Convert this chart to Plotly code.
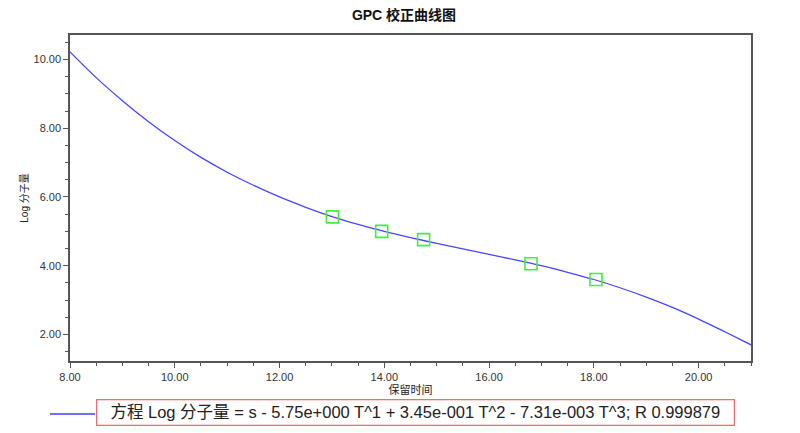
import plotly.graph_objects as go

# Calibration curve
curve_t = [8.0, 8.5, 9.0, 9.5, 10.0, 10.5, 11.0, 11.5, 12.0, 12.5, 13.0, 13.5, 14.0,
           14.5, 15.0, 15.5, 16.0, 16.5, 17.0, 17.5, 18.0, 18.5, 19.0, 19.5, 20.0, 20.5, 21.0]
curve_logm = [10.22, 9.47, 8.80, 8.19, 7.64, 7.15, 6.72, 6.34, 6.00, 5.70, 5.43, 5.20, 5.00,
              4.82, 4.65, 4.49, 4.33, 4.17, 4.00, 3.81, 3.60, 3.36, 3.09, 2.79, 2.45, 2.08, 1.70]

# Calibration standards
std_t = [13.01, 13.95, 14.75, 16.80, 18.04]
std_logm = [5.42, 5.00, 4.76, 4.06, 3.60]

title_text = "GPC 校正曲线图"
x_title = "保留时间"
y_title = "Log 分子量"
legend_text = "方程 Log 分子量 = s - 5.75e+000 T^1 + 3.45e-001 T^2 - 7.31e-003 T^3; R 0.999879"

x_range = [8, 21]
y_range = [1.23, 10.71]
x_ticks = [8, 10, 12, 14, 16, 18, 20]
y_ticks = [2, 4, 6, 8, 10]

font_main = "Liberation Sans, Arial, Noto Sans CJK SC, sans-serif"
font_narrow = "Liberation Sans Narrow, Liberation Sans, Arial, Noto Sans CJK SC, sans-serif"
axis_color = "#555555"

fig = go.Figure()
fig.add_trace(go.Scatter(
    x=curve_t, y=curve_logm, mode="lines",
    line=dict(color="rgb(70,70,250)", width=1.3, shape="spline", smoothing=0.8),
    showlegend=False, hoverinfo="x+y"))
fig.add_trace(go.Scatter(
    x=std_t, y=std_logm, mode="markers",
    marker=dict(symbol="square-open", size=12, color="rgb(70,235,70)",
                line=dict(width=1.6, color="rgb(70,235,70)")),
    showlegend=False))

axis_common = dict(
    showgrid=False, zeroline=False, showline=True, mirror=True,
    linecolor=axis_color, linewidth=1.5, ticks="outside", ticklen=5,
    tickcolor=axis_color, tickwidth=1, tickformat=".2f",
    tickfont=dict(family=font_narrow, size=11, color="#333333"),
)

fig.update_xaxes(range=x_range, tickvals=x_ticks,
                 minor=dict(dtick=0.5, ticks="outside", ticklen=3, tickcolor=axis_color),
                 title=dict(text=x_title, standoff=1,
                            font=dict(family=font_main, size=11, color="#222222")),
                 **axis_common)
fig.update_yaxes(range=y_range, tickvals=y_ticks,
                 minor=dict(dtick=0.5, ticks="outside", ticklen=3, tickcolor=axis_color),
                 title=dict(text=y_title, standoff=3,
                            font=dict(family=font_main, size=10, color="#222222")),
                 **axis_common)

fig.update_layout(
    width=800, height=433,
    margin=dict(l=62, r=57, t=27, b=80),
    paper_bgcolor="white", plot_bgcolor="white",
    title=dict(text="<b>" + title_text + "</b>", x=0.495, xanchor="center",
               y=0.995, yanchor="top",
               font=dict(family=font_main, size=14, color="#111111")),
    showlegend=False,
)

# Legend drawn manually: line sample outside a red-bordered text box
fig.add_shape(type="line", xref="paper", yref="paper",
              x0=-0.0294, x1=0.0367, y0=-0.1626, y1=-0.1626,
              line=dict(color="rgb(110,110,255)", width=2))
fig.add_annotation(xref="paper", yref="paper", x=0.5073, y=-0.158,
                   xanchor="center", yanchor="middle", showarrow=False,
                   text=legend_text, width=634, height=22, align="center",
                   font=dict(family=font_main, size=16.5, color="#222222"),
                   bordercolor="rgb(240,110,110)", borderwidth=1.3, borderpad=1,
                   bgcolor="white")

fig.write_html("out.html")
